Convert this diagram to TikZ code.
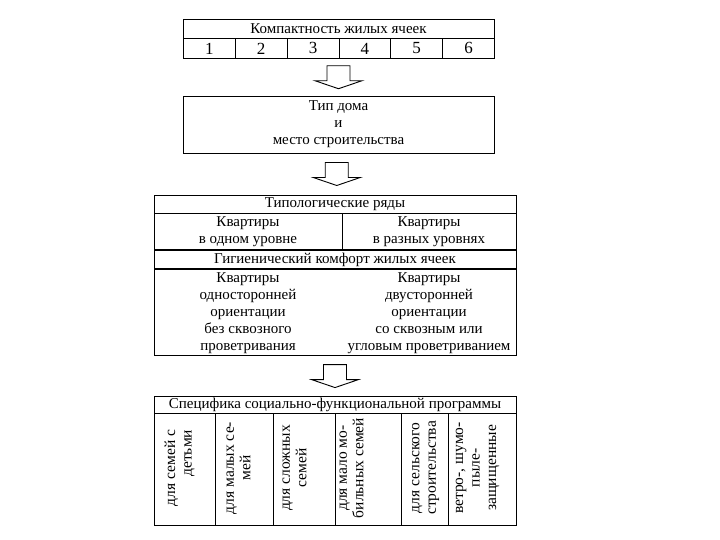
\documentclass[tikz,border=0pt]{standalone}
\usepackage{fontspec}
\setmainfont{Liberation Serif}
\usetikzlibrary{positioning,calc}

\begin{document}
\begin{tikzpicture}[x=1pt, y=-1pt, line width=0.9pt]
    \fontsize{15}{17}\selectfont
    \useasboundingbox (0,0) rectangle (720,540);

    % Shapes
    \tikzstyle{cell}=[rectangle, draw, inner sep=0pt, align=center]
    \tikzstyle{vtext}=[rotate=90, inner sep=0pt, font=\fontsize{15.5}{16.5}\selectfont]
    \tikzset{pics/downArrow/.style={code={
        \draw (-11.5,-11.5) -- (11.5,-11.5) -- (11.5,3.5) -- (23.5,3.5) -- (0,11.5) -- (-23.5,3.5) -- (-11.5,3.5) -- cycle;}}}

    % Compactness
    \node[cell, minimum width=311, minimum height=19] at (338.5,28.5) (compTitle) {Компактность жилых ячеек};
    \foreach \i in {1,...,6}
        \node[cell, minimum width=311/6, minimum height=20, anchor=north west, font=\fontsize{17}{17}\selectfont] at ({183+(\i-1)*311/6},38) (comp\i) {\i};

    % House type
    \node[cell, minimum width=311, minimum height=57] at (338.5,124.5) (house) {Тип дома\\и\\место строительства};

    % Typological rows
    \node[cell, minimum width=362, minimum height=18] at (335,204) (typTitle) {Типологические ряды};
    \node[cell, minimum width=188, minimum height=36, anchor=north west] at (typTitle.south west) (typOne) {Квартиры\\в одном уровне};
    \node[cell, minimum width=174, minimum height=36, anchor=north east] at (typTitle.south east) (typTwo) {Квартиры\\в разных уровнях};

    % Hygienic comfort
    \node[cell, minimum width=362, minimum height=18, anchor=north] at (typTitle.south |- typOne.south) (hygTitle) {Гигиенический комфорт жилых ячеек};
    \node[cell, minimum width=362, minimum height=86, anchor=north] at (hygTitle.south) (hygBody) {};
    \node[align=center, anchor=north, inner sep=0pt, yshift=-3pt, font=\fontsize{15}{17}\selectfont] at (hygBody.north -| typOne.center) (hygLeft) {Квартиры\\односторонней\\ориентации\\без сквозного\\проветривания};
    \node[align=center, anchor=north, inner sep=0pt, yshift=-3pt, font=\fontsize{15}{17}\selectfont] at (hygBody.north -| typTwo.center) (hygRight) {Квартиры\\двусторонней\\ориентации\\со сквозным или\\угловым проветриванием};

    % Program
    \node[cell, minimum width=362, minimum height=17, anchor=north] at (335,396) (progTitle) {Специфика социально-функциональной программы};
    \foreach \xa/\xb [count=\i] in {154/215, 215/273, 273/335, 335/401, 401/448, 448/516}
        \node[cell, minimum width=\xb-\xa, minimum height=112, anchor=north west] at (\xa,413) (progCol\i) {};
    \foreach \x/\al/\txt [count=\i] in {179.5/right/{для семей с\\детьми}, 238.5/center/{для малых се-\\мей},
            294.5/center/{для сложных\\семей}, 351.5/center/{для мало мо-\\бильных семей},
            425.5/center/{для сельского\\строительства}, 477.5/center/{ветро-, шумо-\\пыле-\\защищенные}}
        \node[vtext, align=\al] at (\x,468) (progText\i) {\txt};

    % Arrows
    \pic at ($(comp3.south -| compTitle.south)!0.5!(house.north)$) {downArrow};
    \pic at ($(house.south)!0.5!(typTitle.north)$) {downArrow};
    \pic at ($(hygBody.south)!0.5!(progTitle.north)$) {downArrow};
\end{tikzpicture}
\end{document}
